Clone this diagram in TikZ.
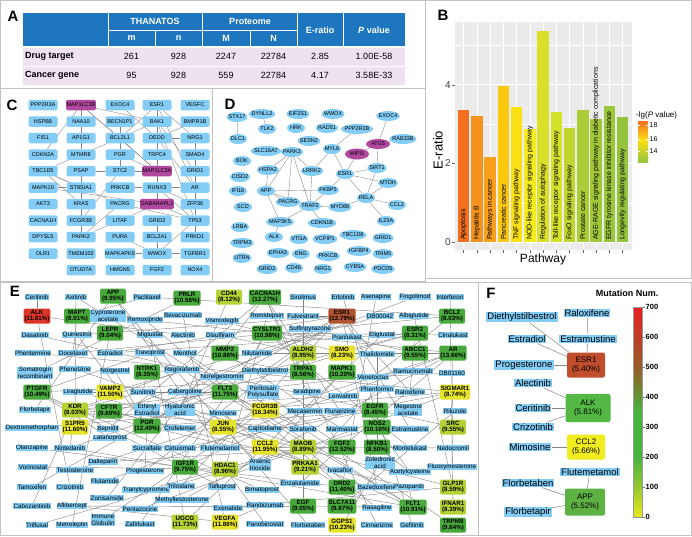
\documentclass[tikz,border=0pt]{standalone}
\usepackage{fontspec}
\setmainfont{Liberation Sans}
\usepackage{tikz}
\usetikzlibrary{shapes.geometric,backgrounds}
\pgfdeclarelayer{paper}
\pgfsetlayers{paper,background,main}
\definecolor{framegrey}{RGB}{195,195,195}
\definecolor{tblblue}{RGB}{30,118,190}
\definecolor{tblpink}{RGB}{238,226,240}
\definecolor{netblue}{RGB}{130,204,245}
\definecolor{automag}{RGB}{176,72,160}
\definecolor{linkgrey}{RGB}{132,132,132}
\definecolor{plotgrey}{RGB}{235,235,235}
\definecolor{bar1}{RGB}{243,112,33}
\definecolor{bar2}{RGB}{246,146,30}
\definecolor{bar3}{RGB}{248,160,28}
\definecolor{bar4}{RGB}{252,200,15}
\definecolor{bar5}{RGB}{250,224,20}
\definecolor{bar6}{RGB}{244,236,32}
\definecolor{bar7}{RGB}{218,224,42}
\definecolor{bar8}{RGB}{212,226,42}
\definecolor{bar9}{RGB}{192,214,46}
\definecolor{bar10}{RGB}{170,205,55}
\definecolor{bar11}{RGB}{162,200,58}
\definecolor{bar12}{RGB}{156,198,60}
\definecolor{bar13}{RGB}{150,195,62}
\definecolor{gdark}{RGB}{72,170,60}
\definecolor{gyg}{RGB}{180,210,52}
\definecolor{gyel}{RGB}{230,228,42}
\definecolor{gred}{RGB}{220,52,40}
\definecolor{gbrown}{RGB}{178,84,50}
\definecolor{fesr}{RGB}{192,78,44}
\definecolor{falk}{RGB}{84,184,68}
\definecolor{fccl}{RGB}{240,236,30}
\definecolor{fapp}{RGB}{94,178,68}
\definecolor{scyel}{RGB}{232,232,32}
\definecolor{scygr}{RGB}{150,200,50}
\definecolor{scgreen}{RGB}{70,180,60}
\definecolor{scbrown}{RGB}{150,92,40}
\definecolor{scred}{RGB}{232,30,40}
\tikzset{
  panelframe/.style={draw=framegrey,line width=0.7pt},
  panellabel/.style={font=\fontsize{15}{15}\selectfont\bfseries,inner sep=0pt},
  tblhead/.style={font=\fontsize{9}{10}\selectfont\bfseries,text=white,inner sep=0pt},
  tblcell/.style={font=\fontsize{9}{10}\selectfont,inner sep=0pt},
  cgene/.style={rectangle,rounded corners=1.5pt,fill=netblue,minimum width=29pt,
    minimum height=10.5pt,inner sep=0.5pt,font=\fontsize{5.5}{6}\selectfont},
  dgene/.style={ellipse,fill=netblue,minimum width=18pt,minimum height=10pt,
    inner xsep=-1pt,inner ysep=0pt,font=\fontsize{5.5}{6}\selectfont},
  ppi/.style={draw=linkgrey,line width=0.35pt},
  drug/.style={fill=netblue,inner sep=0.5pt,font=\fontsize{6.3}{6.9}\selectfont,
    align=center},
  target/.style={rectangle,rounded corners=1.5pt,inner sep=1pt,minimum width=26pt,
    minimum height=15pt,font=\fontsize{6.2}{6.9}\selectfont\bfseries,align=center},
  link/.style={draw=linkgrey,line width=0.4pt},
  bigdrug/.style={fill=netblue,inner sep=1pt,font=\fontsize{9.5}{10}\selectfont},
  bigtarget/.style={rectangle,rounded corners=2pt,minimum width=38pt,
    minimum height=25pt,font=\fontsize{8}{8.6}\selectfont,align=center},
  ticklab/.style={font=\fontsize{10}{10}\selectfont,text=black!75,inner sep=1pt},
  barlab/.style={font=\fontsize{7}{7}\selectfont,inner sep=0.5pt},
  scalelab/.style={font=\fontsize{7.5}{8}\selectfont\bfseries,inner sep=0.5pt}
}

\begin{document}
\begin{tikzpicture}[x=1pt,y=-1pt]
  \useasboundingbox (0,0) rectangle (692,536);
  \begin{pgfonlayer}{paper}
    \fill[white] (0,0) rectangle (692,536);
  \end{pgfonlayer}
  % panel frames
  \draw[panelframe] (0.5,0.5) rectangle (425,88);
  \draw[panelframe] (425,0.5) rectangle (691.5,278);
  \draw[panelframe] (0.5,88) rectangle (212,281);
  \draw[panelframe] (212,88) rectangle (425,281);
  \draw[panelframe] (0.5,282) rectangle (478,535.5);
  \draw[panelframe] (478,282) rectangle (691.5,535.5);

  % ---------- A: enrichment table
  \node[panellabel] (labA) at (13,16) {A};
  \fill[tblblue] (23,13) rectangle (405,47);
  \fill[tblpink] (23,47) rectangle (405,85);
  \draw[white,line width=1pt] (108,13) -- (108,47) (202,13) -- (202,47)
    (297,13) -- (297,47) (343,13) -- (343,47) (155,30) -- (155,47)
    (250,30) -- (250,47) (108,30) -- (297,30);
  \draw[white,line width=1.4pt] (23,47) -- (405,47);
  \draw[white,line width=0.6pt] (23,66) -- (405,66);
  \node[tblhead] (hThan) at (155,21.5) {THANATOS};
  \node[tblhead] (hProt) at (250,21.5) {Proteome};
  \node[tblhead] (hm) at (131.5,38.5) {m};
  \node[tblhead] (hn) at (178.5,38.5) {n};
  \node[tblhead] (hM) at (226,38.5) {M};
  \node[tblhead] (hN) at (273.5,38.5) {N};
  \node[tblhead] (hE) at (320,30) {E-ratio};
  \node[tblhead] (hP) at (374,30) {\textit{P} value};
  \node[tblcell,font=\fontsize{9}{10}\selectfont\bfseries,anchor=west] (rDrug)
    at (25,56.5) {Drug target};
  \node[tblcell,font=\fontsize{9}{10}\selectfont\bfseries,anchor=west] (rCanc)
    at (25,75.5) {Cancer gene};
  \foreach \va/\vb/\vc/\vd/\ve/\vf [count=\r] in
    {261/928/2247/22784/2.85/1.00E-58, 95/928/559/22784/4.17/3.58E-33} {
    \pgfmathsetmacro\ry{37.5+19*\r}
    \node[tblcell] (t\r a) at (131.5,\ry) {\va};
    \node[tblcell] (t\r b) at (178.5,\ry) {\vb};
    \node[tblcell] (t\r c) at (226,\ry) {\vc};
    \node[tblcell] (t\r d) at (273.5,\ry) {\vd};
    \node[tblcell] (t\r e) at (320,\ry) {\ve};
    \node[tblcell] (t\r f) at (374,\ry) {\vf};
  }

  % ---------- B: pathway bar chart
  \node[panellabel] (labB) at (443,15) {B};
  \fill[plotgrey] (455,22) rectangle (632,250);
  \foreach \g in {1,3,5} \draw[white,line width=0.3pt] (455,{242-\g*39.3}) -- (632,{242-\g*39.3});
  \foreach \g in {0,2,4} {
    \draw[white,line width=0.7pt] (455,{242-\g*39.3}) -- (632,{242-\g*39.3});
    \draw[black!60] (452,{242-\g*39.3}) -- (455,{242-\g*39.3});
    \node[ticklab,anchor=east] (yt\g) at (452,{242-\g*39.3}) {\g};
  }
  \foreach \i in {1,...,13} {
    \draw[white,line width=0.7pt] ({463.6+(\i-1)*13.25},22) -- ({463.6+(\i-1)*13.25},250);
    \draw[black!60] ({463.6+(\i-1)*13.25},250) -- ({463.6+(\i-1)*13.25},252.5);
  }
  \foreach \h/\lab [count=\i] in {3.35/Apoptosis, 3.2/Hepatitis B,
      2.17/Pathways in cancer, 3.96/Pancreatic cancer, 3.43/TNF signaling pathway,
      2.87/NOD-like receptor signaling pathway, 5.38/Regulation of autophagy,
      3.3/Toll-like receptor signaling pathway, 2.9/FoxO signaling pathway,
      3.35/Prostate cancer, 3.12/AGE-RAGE signaling pathway in diabetic complications,
      3.45/EGFR tyrosine kinase inhibitor resistance, 3.17/Longevity regulating pathway} {
    \pgfmathsetmacro\xc{463.6+(\i-1)*13.25}
    \fill[bar\i] (\xc-5.8,242) rectangle (\xc+5.8,{242-\h*39.3});
    \node[barlab,rotate=90,anchor=west] (bl\i) at (\xc,240.5) {\lab};
  }
  \node[font=\fontsize{13}{13}\selectfont,rotate=90] (yTitle) at (438,150) {E-ratio};
  \node[font=\fontsize{12}{12}\selectfont] (xTitle) at (543,259) {Pathway};
  \node[font=\fontsize{8}{9}\selectfont,anchor=west,inner sep=0pt] (legTitle)
    at (636,115) {-lg(\textit{P} value)};
  \shade[top color=bar1,bottom color=bar5] (638,121) rectangle (648,140);
  \shade[top color=bar5,bottom color=bar13] (638,140) rectangle (648,162);
  \foreach \v/\vy in {18/125,16/139,14/151} {
    \draw[white,line width=0.4pt] (638,\vy) -- ++(2,0) (648,\vy) -- ++(-2,0);
    \node[font=\fontsize{7}{7}\selectfont,anchor=west,inner sep=0.5pt] (lg\v)
      at (649,\vy) {\v};
  }

  % ---------- C: box network
  \node[panellabel] (labC) at (12,105) {C};
  \foreach \n/\col [count=\k] in {PPP2R3A/netblue, HSPB8/netblue, FIS1/netblue,
      CDKN2A/netblue, TBC1D5/netblue, MAPK10/netblue, AKT3/netblue,
      CACNA1H/netblue, DPYSL5/netblue, OLR1/netblue}
    \node[cgene,fill=\col] (c-\n) at (43,{88.5+16.5*\k}) {\n};
  \foreach \n/\col [count=\k] in {MAP1LC3B/automag, NAA10/netblue, AP1G1/netblue,
      MTMR8/netblue, PSAP/netblue, ST8SIA1/netblue, KRAS/netblue, FCGR3B/netblue,
      PARK2/netblue, TMEM102/netblue, OTUD7A/netblue}
    \node[cgene,fill=\col] (c-\n) at (81,{88.5+16.5*\k}) {\n};
  \foreach \n/\col [count=\k] in {EXOC4/netblue, BECN1P1/netblue, BCL2L1/netblue,
      PGR/netblue, STC2/netblue, PRKCB/netblue, PACRG/netblue, LITAF/netblue,
      PURA/netblue, MAPKAPK5/netblue, HMGN5/netblue}
    \node[cgene,fill=\col] (c-\n) at (120,{88.5+16.5*\k}) {\n};
  \foreach \n/\col [count=\k] in {ESR1/netblue, BAK1/netblue, DEDD/netblue,
      TRPC4/netblue, MAP1LC3A/automag, RUNX3/netblue, GABARAPL1/automag,
      GRID2/netblue, BCL2A1/netblue, WWOX/netblue, FGF2/netblue}
    \node[cgene,fill=\col] (c-\n) at (157,{88.5+16.5*\k}) {\n};
  \foreach \n/\col [count=\k] in {VEGFC/netblue, BMPR1B/netblue, NRG1/netblue,
      SMAD4/netblue, GRID1/netblue, AR/netblue, ZFP36/netblue, TP53/netblue,
      PRKD1/netblue, TGFBR1/netblue, NOX4/netblue}
    \node[cgene,fill=\col] (c-\n) at (195,{88.5+16.5*\k}) {\n};
  \begin{scope}[on background layer]
    \foreach \src/\dst in {MAP1LC3B/NAA10, MAP1LC3B/BCL2L1, MAP1LC3B/MAP1LC3A,
        MAP1LC3B/CDKN2A, MAP1LC3B/BAK1, EXOC4/DEDD, ESR1/BAK1, ESR1/BCL2L1,
        ESR1/DEDD, ESR1/TRPC4, ESR1/AR, ESR1/NRG1, BAK1/BCL2L1, BAK1/DEDD,
        BAK1/MAP1LC3A, BAK1/TP53, BAK1/GRID1, BMPR1B/DEDD, BECN1P1/BCL2L1,
        BCL2L1/MAP1LC3A, BCL2L1/TBC1D5, BCL2L1/PGR, NAA10/AP1G1, AP1G1/MTMR8,
        DEDD/TRPC4, DEDD/RUNX3, DEDD/AR, DEDD/NRG1, TRPC4/MAP1LC3A, PGR/MAP1LC3A,
        PGR/STC2, STC2/PSAP, STC2/MAP1LC3A, STC2/FCGR3B, MAP1LC3A/RUNX3,
        PRKCB/RUNX3, RUNX3/AR, RUNX3/GABARAPL1, RUNX3/TP53, RUNX3/ZFP36,
        TBC1D5/ST8SIA1, TBC1D5/KRAS, TBC1D5/PACRG, MAPK10/ST8SIA1,
        MAPK10/GABARAPL1, KRAS/PARK2, ST8SIA1/PARK2, FCGR3B/PARK2, PACRG/PARK2,
        LITAF/PARK2, LITAF/GABARAPL1, GABARAPL1/TP53, GRID2/BCL2A1, BCL2A1/WWOX,
        PURA/WWOX, MAPKAPK5/WWOX, WWOX/TGFBR1, WWOX/TP53, TP53/PRKD1, TP53/ZFP36,
        TP53/AR, AR/GRID1, NRG1/SMAD4, SMAD4/TP53, PACRG/TP53, PSAP/KRAS}
      \draw[ppi] (c-\src) -- (c-\dst);
  \end{scope}

  % ---------- D: ellipse network
  \node[panellabel] (labD) at (230,104) {D};
  \foreach \n/\x/\y in {STX17/237/117, DYNLL2/262/114, EIF2S1/298/114, WWOX/333/114,
      EXOC4/388/116, TLK2/267/129, HRK/296/128, RAD51/327/128, PPP2R2B/357/129,
      DLC1/238/139, SESN2/309/141, RAB33B/403/139, SLC16A7/266/151, PARK2/292/152,
      MYL6/332/149, BOK/242/161, SIRT1/377/168, HSPA2/268/170, LRRK2/312/171,
      ESR1/345/174, CISD2/240/177, MTDH/388/183, IFI16/238/191, APP/266/191,
      FKBP5/328/190, PACRG/288/202, TRAF2/310/206, RELA/366/198, CCL2/397/205,
      SCD/243/207, MYD88/340/207, MAP3K5/280/222, CDKN1B/322/223, IL23A/386/221,
      LRBA/240/227, ALK/274/237, VTI1A/299/239, VCPIP1/325/239, TBC1D8/353/235,
      GRID1/383/238, TRPM3/242/243, EPHA3/278/253, ENG/301/254, PRKCB/328/256,
      IGFBP4/359/251, TRIM5/383/254, UTRN/242/258, GRID2/267/269, CD46/294/268,
      NRG1/323/269, CYB5A/355/267, PDCD5/383/269}
    \node[dgene] (d-\n) at (\x,\y) {\n};
  \node[dgene,fill=automag,minimum width=24pt] (d-ATG5) at (378,144) {ATG5};
  \node[dgene,fill=automag,minimum width=24pt,minimum height=11pt] (d-WIPI1)
    at (357,154) {WIPI1};
  \begin{scope}[on background layer]
    \foreach \src/\dst in {STX17/DLC1, DYNLL2/TLK2, EXOC4/ATG5, RAB33B/ATG5,
        PPP2R2B/MYL6, WIPI1/ATG5, ATG5/SIRT1, MYL6/LRRK2, MYL6/ESR1, WIPI1/ESR1,
        PARK2/HSPA2, PARK2/APP, PARK2/LRRK2, PARK2/TRAF2, PARK2/PACRG, HSPA2/APP,
        APP/FKBP5, APP/PACRG, APP/MAP3K5, APP/TRAF2, LRRK2/TRAF2, FKBP5/ESR1,
        FKBP5/TRAF2, ESR1/SIRT1, ESR1/MTDH, ESR1/RELA, SIRT1/RELA, MTDH/RELA,
        RELA/CCL2, RELA/IL23A, RELA/MYD88, TRAF2/MYD88, TRAF2/CDKN1B,
        TRAF2/MAP3K5, TRAF2/PACRG, MAP3K5/ALK}
      \draw[ppi] (d-\src) -- (d-\dst);
  \end{scope}

  % ---------- E: drug--target network
  \node[panellabel] (labE) at (15,291) {E};
  \foreach \n/\x/\y/\p/\col in {APP/113/296/9.95/gdark, PRLR/187/298/10.58/gdark,
      CD44/229/297/8.12/gyg, CACNA1H/265/297/12.27/gdark, ALK/37/316/11.81/gred,
      MAPT/77/316/8.01/gdark, ESR1/342/316/12.79/gbrown, BCL2/452/316/8.03/gdark,
      LEPR/110/333/9.04/gdark, CYSLTR1/267/333/10.98/gdark, ESR2/415/333/8.31/gdark,
      MMP2/225/353/10.88/gdark, ALDH2/303/353/8.95/gyg, SMO/342/353/8.23/gyel,
      ABCC1/415/353/9.55/gdark, AR/453/353/13.66/gdark, NTRK1/147/372/8.35/gdark,
      TRPA1/303/372/8.56/gdark, MAPK1/342/372/10.20/gdark, PTGFR/37/392/10.49/gdark,
      VAMP2/110/392/11.50/gyel, FLT3/225/392/11.75/gdark, SIGMAR1/455/392/8.74/gyel,
      KDR/75/410/8.03/gyg, CFTR/109/411/9.69/gdark, FCGR3B/265/410/16.34/gyel,
      EGFR/375/410/8.45/gdark, S1PR5/75/427/11.60/gyel, PGR/147/426/12.49/gdark,
      JUN/223/427/8.55/gyel, NOS2/377/427/10.16/gdark, SRC/453/427/9.55/gyg,
      CCL2/265/447/11.95/gyel, MAOB/303/447/8.89/gyg, FGF2/342/447/12.52/gdark,
      NFKB1/377/447/8.50/gdark, IGF1R/185/467/9.75/gdark, HDAC1/225/469/8.96/gyg,
      PRKAA1/305/467/9.21/gyg, DRD2/342/487/11.40/gdark, GLP1R/453/487/8.59/gyg,
      EGF/303/506/9.05/gdark, SLC7A11/342/506/9.87/gdark, FLT1/413/507/10.91/gdark,
      IFNAR1/453/507/8.39/gyg, UGCG/185/522/11.73/gyg, VEGFA/225/522/11.86/gyel,
      GGPS1/342/525/10.23/gyel, TRPM8/453/525/9.64/gdark}
    \node[target,fill=\col] (e-\n) at (\x,\y) {\n\\(\p\%)};
  \foreach \n/\x/\y in {Ceritinib/37/297, Axitinib/76/297, Paclitaxel/147/297,
      Sirolimus/303/297, Erlotinib/343/297, Asenapine/376/297, Fingolimod/415/297,
      Interferon/450/297, Remoxipride/145/320, Bevacizumab/183/315,
      Vismodegib/222/321, Romidepsin/267/316, Fulvestrant/303/316, DB00042/380/316,
      Albiglutide/414/316, Dasatinib/35/335, Quinestrol/77/335, Miglustat/150/335,
      Alectinib/183/335, Disulfiram/220/335, Sulfinpyrazone/310/329,
      Pranlukast/347/337, Eliglustat/382/335, Cinalukast/453/335,
      Phentermine/33/353, Docetaxel/73/353, Estradiol/110/353, Travoprost/150/353,
      Menthol/185/353, Nilutamide/257/353, Thalidomide/377/354, Phenelzine/75/369,
      Norgestrel/115/371, Regorafenib/182/370, Norelgestromin/222/377,
      Diethylstilbestrol/265/371, Venetoclax/373/377, Ramucirumab/413/371,
      DB01160/452/373, Liraglutide/78/392, Sunitinib/143/392, Cabergoline/185/392,
      Isradipine/307/392, Lenvatinib/343/396, Phenformin/377/389, Raloxifene/410/392,
      Florbetapir/35/410, Mimosine/223/413, Mecasermin/305/411, Flunarizine/340/411,
      Riluzole/455/411, Dextromethorphan/32/428, Bepridil/108/429,
      Crofelemer/180/428, Captodiame/265/429, Sorafenib/303/429, Marimastat/342/429,
      Estramustine/410/429, Latanoprost/110/438, Olanzapine/32/448,
      Nintedanib/70/448, Sucralfate/147/448, Cetuximab/180/448,
      Flutemetamol/220/448, Montelukast/410/448, Nedocromil/453/448,
      Dalteparin/103/462, Vorinostat/33/467, Testosterone/75/470,
      Progesterone/145/471, Ivacaftor/340/470, Acetylcysteine/410/472,
      Fluoxymesterone/452/467, Tamoxifen/32/487, Crizotinib/70/487,
      Flutamide/105/481, Tranylcypromine/146/490, Trilostane/181/486,
      Tafluprost/222/487, Bimatoprost/262/490, Enzalutamide/300/483,
      Bazedoxifene/377/487, Pazopanib/409/487, Zonisamide/107/498,
      Methyltestosterone/182/500, Cabozantinib/32/506, Aflibercept/72/506,
      Pentazocine/140/509, Exenatide/228/508, Ranibizumab/265/505,
      Rasagiline/377/508, Triflusal/37/525, Metreleptin/72/525, Zafirlukast/140/524,
      Panobinostat/265/524, Florbetaben/308/525, Cinnarizine/377/525,
      Gefitinib/412/525}
    \node[drug] (e-\n) at (\x,\y) {\n};
  \node[drug] (e-Cyproterone) at (108,316) {Cyproterone\\acetate};
  \node[drug] (e-Somatrogin) at (35,373) {Somatrogin\\recombinant};
  \node[drug] (e-Ethinyl) at (147,410) {Ethinyl\\Estradiol};
  \node[drug] (e-Hyaluronic) at (180,410) {Hyaluronic\\acid};
  \node[drug] (e-Pentosan) at (263,392) {Pentosan\\Polysulfate};
  \node[drug] (e-Megestrol) at (408,410) {Megestrol\\acetate};
  \node[drug] (e-Arsenic) at (260,465) {Arsenic\\trioxide};
  \node[drug] (e-Zoledronic) at (380,463) {Zoledronic\\acid};
  \node[drug] (e-Immune) at (103,520) {Immune\\Globulin};
  \begin{scope}[on background layer]
    \foreach \src/\dst in {ALK/Ceritinib, ALK/Crizotinib, ALK/Alectinib,
        APP/Florbetapir, APP/Flutemetamol, APP/Florbetaben, MAPT/Paclitaxel,
        MAPT/Docetaxel, BCL2/Venetoclax, BCL2/Paclitaxel, BCL2/Docetaxel,
        ESR1/Fulvestrant, ESR1/Raloxifene, ESR1/Estradiol, ESR1/Diethylstilbestrol,
        ESR1/Tamoxifen, ESR1/Estramustine, ESR1/Quinestrol, ESR1/Bazedoxifene,
        ESR1/Progesterone, ESR1/Ethinyl, ESR1/Trilostane, ESR2/Raloxifene,
        ESR2/Estradiol, ESR2/Diethylstilbestrol, ESR2/Ethinyl, PRLR/Somatrogin,
        CD44/Hyaluronic, CACNA1H/Flunarizine, CACNA1H/Isradipine, CACNA1H/Bepridil,
        CACNA1H/Zonisamide, CACNA1H/Cinnarizine, LEPR/Metreleptin,
        CYSLTR1/Montelukast, CYSLTR1/Zafirlukast, CYSLTR1/Pranlukast,
        CYSLTR1/Cinalukast, MMP2/Marimastat, ALDH2/Disulfiram, SMO/Vismodegib,
        ABCC1/Sulfinpyrazone, AR/Nilutamide, AR/Flutamide, AR/Testosterone,
        AR/Enzalutamide, AR/Methyltestosterone, AR/Fluoxymesterone, AR/Cyproterone,
        NTRK1/Regorafenib, NTRK1/Sunitinib, TRPA1/Menthol, MAPK1/Arsenic,
        PTGFR/Latanoprost, PTGFR/Travoprost, PTGFR/Bimatoprost, PTGFR/Tafluprost,
        PTGFR/DB01160, VAMP2/DB00042, VAMP2/Liraglutide, FLT3/Sunitinib,
        FLT3/Sorafenib, FLT3/Nintedanib, SIGMAR1/Dextromethorphan,
        SIGMAR1/Pentazocine, SIGMAR1/Captodiame, SIGMAR1/Phentermine, KDR/Axitinib,
        KDR/Sunitinib, KDR/Sorafenib, KDR/Pazopanib, KDR/Regorafenib, KDR/Lenvatinib,
        KDR/Cabozantinib, KDR/Ramucirumab, KDR/Nintedanib, CFTR/Ivacaftor,
        CFTR/Crofelemer, FCGR3B/Immune, EGFR/Erlotinib, EGFR/Gefitinib,
        EGFR/Cetuximab, S1PR5/Fingolimod, PGR/Progesterone, PGR/Norgestrel,
        PGR/Megestrol, PGR/Norelgestromin, PGR/Quinestrol, JUN/Arsenic,
        NOS2/Acetylcysteine, NOS2/Triflusal, SRC/Dasatinib, CCL2/Mimosine,
        CCL2/Nedocromil, MAOB/Rasagiline, MAOB/Phenelzine, MAOB/Tranylcypromine,
        FGF2/Pentosan, FGF2/Sucralfate, FGF2/Dalteparin, NFKB1/Thalidomide,
        NFKB1/Acetylcysteine, IGF1R/Mecasermin, HDAC1/Vorinostat, HDAC1/Romidepsin,
        HDAC1/Panobinostat, PRKAA1/Phenformin, DRD2/Olanzapine, DRD2/Asenapine,
        DRD2/Cabergoline, DRD2/Remoxipride, GLP1R/Liraglutide, GLP1R/Albiglutide,
        GLP1R/Exenatide, EGF/Sirolimus, SLC7A11/Riluzole, FLT1/Aflibercept,
        FLT1/Axitinib, FLT1/Sunitinib, FLT1/Pazopanib, FLT1/Regorafenib,
        FLT1/Nintedanib, IFNAR1/Interferon, UGCG/Miglustat, UGCG/Eliglustat,
        VEGFA/Bevacizumab, VEGFA/Ranibizumab, VEGFA/Aflibercept, GGPS1/Zoledronic,
        TRPM8/Menthol}
      \draw[link] (e-\src) -- (e-\dst);
  \end{scope}

  % ---------- F: top mutated targets
  \node[panellabel] (labF) at (491,293) {F};
  \node[font=\fontsize{9}{9}\selectfont\bfseries] (mutTitle) at (627,293) {Mutation Num.};
  \node[bigtarget,fill=fesr] (f-ESR1) at (586,365) {ESR1\\(5.40\%)};
  \node[bigtarget,fill=falk,minimum width=45pt,minimum height=28pt] (f-ALK)
    at (588,408) {ALK\\(5.81\%)};
  \node[bigtarget,fill=fccl] (f-CCL2) at (586,447) {CCL2\\(5.66\%)};
  \node[bigtarget,fill=fapp,minimum width=40pt,minimum height=27pt] (f-APP)
    at (585,502) {APP\\(5.52\%)};
  \node[bigdrug] (f-Diethylstilbestrol) at (522,317) {Diethylstilbestrol};
  \node[bigdrug] (f-Raloxifene) at (587,313) {Raloxifene};
  \node[bigdrug] (f-Estradiol) at (527,339) {Estradiol};
  \node[bigdrug] (f-Estramustine) at (588,339) {Estramustine};
  \node[bigdrug] (f-Progesterone) at (524,365) {Progesterone};
  \node[bigdrug] (f-Alectinib) at (533,383) {Alectinib};
  \node[bigdrug] (f-Ceritinib) at (533,408) {Ceritinib};
  \node[bigdrug] (f-Crizotinib) at (533,427) {Crizotinib};
  \node[bigdrug] (f-Mimosine) at (530,447) {Mimosine};
  \node[bigdrug] (f-Flutemetamol) at (590,472) {Flutemetamol};
  \node[bigdrug] (f-Florbetaben) at (528,483) {Florbetaben};
  \node[bigdrug] (f-Florbetapir) at (528,512) {Florbetapir};
  \begin{scope}[on background layer]
    \foreach \src/\dst in {Raloxifene/Estramustine, Estramustine/ESR1,
        Diethylstilbestrol/ESR1, Estradiol/ESR1, Progesterone/ESR1, Alectinib/ALK,
        Ceritinib/ALK, Crizotinib/ALK, Mimosine/CCL2, Flutemetamol/APP,
        Florbetaben/APP, Florbetapir/APP}
      \draw[link,line width=0.5pt] (f-\src) -- (f-\dst);
  \end{scope}
  % colour scale
  \shade[bottom color=scyel,top color=scygr] (633,487) rectangle (642,517);
  \shade[bottom color=scygr,top color=scgreen] (633,457) rectangle (642,487.2);
  \fill[scgreen] (633,412) rectangle (642,457.2);
  \shade[bottom color=scgreen,top color=scbrown] (633,367) rectangle (642,412.2);
  \shade[bottom color=scbrown,top color=scred] (633,307) rectangle (642,367.2);
  \draw[black!40,line width=0.3pt] (633,307) rectangle (642,517);
  \foreach \v in {0,100,...,700} {
    \draw[black!50,line width=0.4pt] (642,{517-\v*0.3}) -- ++(2.5,0);
    \node[scalelab,anchor=west] (sc\v) at (645,{517-\v*0.3}) {\v};
  }
\end{tikzpicture}
\end{document}
